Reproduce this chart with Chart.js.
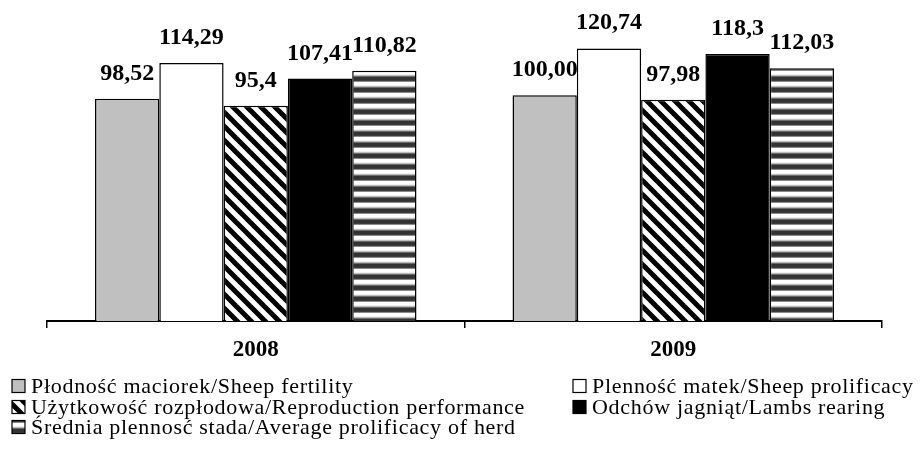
<!DOCTYPE html>
<html>
<head>
<meta charset="utf-8">
<script src="https://cdn.jsdelivr.net/npm/chart.js@4.4.1/dist/chart.umd.min.js"></script>
<style>
  html, body { margin: 0; padding: 0; background: #fff; }
</style>
</head>
<body>
<canvas id="chart" width="920" height="455"></canvas>
<script>
const years = ['2008', '2009'];
const seriesNames = [
  'Płodność maciorek/Sheep fertility',
  'Plenność matek/Sheep prolificacy',
  'Użytkowość rozpłodowa/Reproduction performance',
  'Odchów jagniąt/Lambs rearing',
  'Średnia plennosć stada/Average prolificacy of herd'
];
const fertility = [98.52, 100.00];
const prolificacy = [114.29, 120.74];
const reproduction = [95.4, 97.98];
const rearing = [107.41, 118.3];
const herdProlificacy = [110.82, 112.03];
// labels as printed in the source (decimal comma, uneven decimals)
const fertilityLabels = ['98,52', '100,00'];
const prolificacyLabels = ['114,29', '120,74'];
const reproductionLabels = ['95,4', '97,98'];
const rearingLabels = ['107,41', '118,3'];
const herdLabels = ['110,82', '112,03'];

const valueLabels = [fertilityLabels, prolificacyLabels, reproductionLabels, rearingLabels, herdLabels];

function diagPattern() {
  const s = 14;
  const c = document.createElement('canvas');
  c.width = s; c.height = s;
  const g = c.getContext('2d');
  g.fillStyle = '#fff';
  g.fillRect(0, 0, s, s);
  g.strokeStyle = '#000';
  g.lineWidth = 5;
  for (const o of [-s, 0, s]) {
    g.beginPath();
    g.moveTo(o - 3, -3);
    g.lineTo(o + s + 3, s + 3);
    g.stroke();
  }
  return g.createPattern(c, 'repeat');
}

function stripePattern() {
  const rows = ['#333', '#333', '#333', '#3c3c3c', '#8a8a8a', '#fff', '#fff', '#fff', '#f0f0f0', '#bdbdbd', '#6a6a6a'];
  const c = document.createElement('canvas');
  c.width = 8; c.height = rows.length;
  const g = c.getContext('2d');
  rows.forEach((col, i) => { g.fillStyle = col; g.fillRect(0, i, 8, 1); });
  return g.createPattern(c, 'repeat');
}

const fills = ['#c0c0c0', '#ffffff', diagPattern(), '#000000', stripePattern()];
const seriesData = [fertility, prolificacy, reproduction, rearing, herdProlificacy];

const valueLabelPlugin = {
  id: 'valueLabels',
  afterDatasetsDraw(chart) {
    const ctx = chart.ctx;
    ctx.save();
    ctx.font = 'bold 24px "Liberation Serif"';
    ctx.fillStyle = '#000';
    ctx.textAlign = 'center';
    ctx.textBaseline = 'alphabetic';
    chart.data.datasets.forEach((ds, i) => {
      chart.getDatasetMeta(i).data.forEach((bar, j) => {
        ctx.fillText(valueLabels[i][j], bar.x, bar.y - 19);
      });
    });
    ctx.restore();
  }
};

// legend in two columns, like the original
const legendSpots = [[12, 386], [573, 386], [12, 407], [573, 407], [12, 427]];
const legendPlugin = {
  id: 'sideLegend',
  afterDraw(chart) {
    const ctx = chart.ctx;
    ctx.save();
    ctx.font = '22px "Liberation Serif"';
    ctx.letterSpacing = '0.7px';
    ctx.textBaseline = 'middle';
    ctx.textAlign = 'left';
    legendSpots.forEach(([x, y], i) => {
      ctx.fillStyle = fills[i];
      ctx.fillRect(x, y - 6.5, 13, 13);
      ctx.strokeStyle = '#000';
      ctx.lineWidth = 1.2;
      ctx.strokeRect(x, y - 6.5, 13, 13);
      ctx.fillStyle = '#000';
      ctx.fillText(seriesNames[i], x + 19, y + 1);
    });
    ctx.restore();
  }
};

new Chart(document.getElementById('chart'), {
  type: 'bar',
  data: {
    labels: years,
    datasets: seriesData.map((d, i) => ({
      label: seriesNames[i],
      data: d,
      backgroundColor: fills[i],
      borderColor: '#000',
      borderWidth: 1.5,
      categoryPercentage: 0.77,
      barPercentage: 1.0
    }))
  },
  options: {
    responsive: false,
    animation: false,
    layout: { padding: { left: 47, right: 38, top: 5, bottom: 0 } },
    plugins: {
      legend: { display: false },
      tooltip: { enabled: false }
    },
    scales: {
      y: { display: false, min: 0, max: 140 },
      x: {
        afterFit(scale) { scale.height = 134; },
        grid: {
          offset: true,
          drawOnChartArea: false,
          drawTicks: true,
          tickLength: 7,
          color: '#000',
          lineWidth: 1.5
        },
        border: { color: '#000', width: 2 },
        ticks: {
          color: '#000',
          padding: 8,
          font: { family: 'Liberation Serif', size: 23, weight: 'bold' }
        }
      }
    }
  },
  plugins: [valueLabelPlugin, legendPlugin]
});
</script>
</body>
</html>
